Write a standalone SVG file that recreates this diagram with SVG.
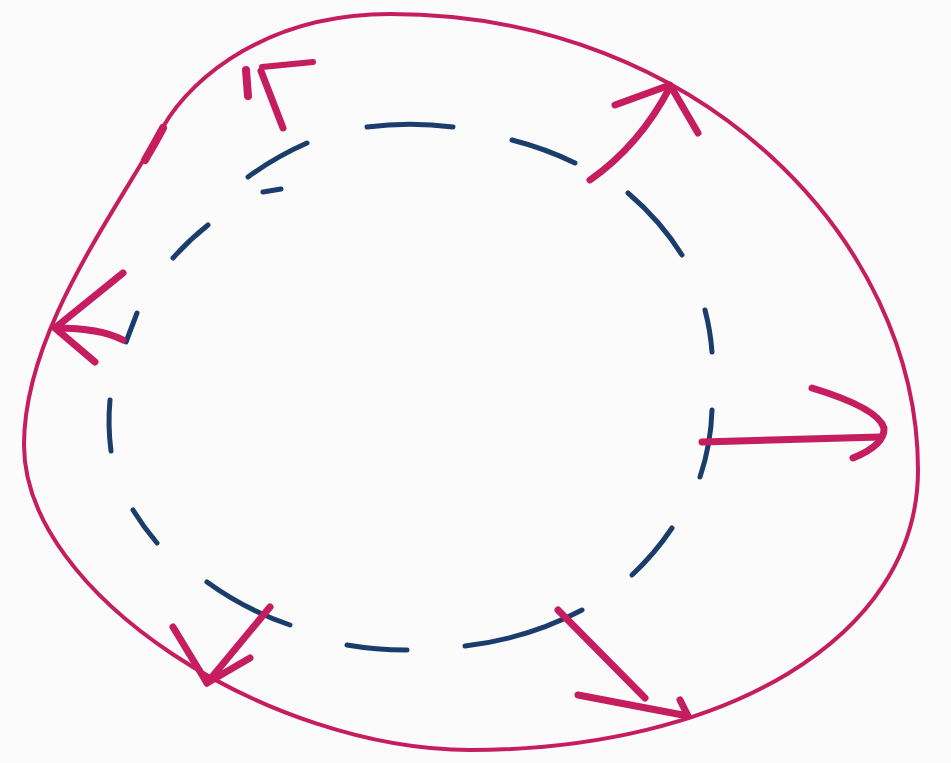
<svg xmlns="http://www.w3.org/2000/svg" width="951" height="763" viewBox="0 0 951 763">
<style>
.m{fill:none;stroke:#c51d5f;stroke-linecap:round;stroke-linejoin:round}
.d{fill:none;stroke:#1b3d6b;stroke-width:5;stroke-linecap:round}
.a{stroke-width:7}
</style>
<rect width="951" height="763" fill="#fbfbfb"/>
<g id="outer">
<path class="m" stroke-width="4" d="M390 14 C700 14 918 240 918 470 C918 640 720 750 470 750 C270 750 24 595 24 445 C24 335 108 223 163 127 C193 75 270 14 390 14 Z"/>
<path class="m" stroke-width="8" d="M163 128 Q155 143 145 160"/>
</g>
<g id="inner">
<path class="d" d="M367 127 A303 263 0 0 1 453 127"/>
<path class="d" d="M512 140 A303 263 0 0 1 575 163"/>
<path class="d" d="M628 193 A303 263 0 0 1 682 255"/>
<path class="d" d="M705 310 A303 263 0 0 1 712 352"/>
<path class="d" d="M712 410 A303 263 0 0 1 700 477"/>
<path class="d" d="M672 528 A303 263 0 0 1 632 575"/>
<path class="d" d="M582 610 A303 263 0 0 1 465 646"/>
<path class="d" d="M407 650 A303 263 0 0 1 347 645"/>
<path class="d" d="M290 625 A303 263 0 0 1 207 582"/>
<path class="d" d="M157 543 A303 263 0 0 1 133 510"/>
<path class="d" d="M111 451 A303 263 0 0 1 110 400"/>
<path class="d" d="M126 342 L137 313"/>
<path class="d" d="M173 258 A303 263 0 0 1 208 225"/>
<path class="d" d="M248 177 A303 263 0 0 1 307 143"/>
<path class="d" stroke-width="8" d="M263 192 L281 189"/>
</g>
<g id="connectors">
<g id="arrow-top-left">
<path class="m a" d="M283 128 L261 71"/>
<path class="m" stroke-width="6" d="M313 62 L262 67"/>
<path class="m" stroke-width="8" d="M246 70 L248 96"/>
</g>
<g id="arrow-left">
<path class="m a" d="M123 340 Q100 328 56 328"/>
<path class="m a" d="M123 273 L55 328 L95 362"/>
</g>
<g id="arrow-top-right">
<path class="m a" d="M590 180 Q640 145 670 87"/>
<path class="m a" d="M615 105 L670 85 L698 133"/>
</g>
<g id="arrow-right">
<path class="m a" d="M702 442 L880 437"/>
<path class="m a" d="M812 388 Q878 408 884 428 Q885 445 853 458"/>
</g>
<g id="arrow-bottom-right">
<path class="m a" d="M558 610 L645 698"/>
<path class="m a" d="M578 695 L688 716 L680 700"/>
</g>
<g id="arrow-bottom-left">
<path class="m a" d="M270 607 L207 683"/>
<path class="m a" d="M173 627 L207 683 L250 658"/>
</g>
</g>
</svg>
